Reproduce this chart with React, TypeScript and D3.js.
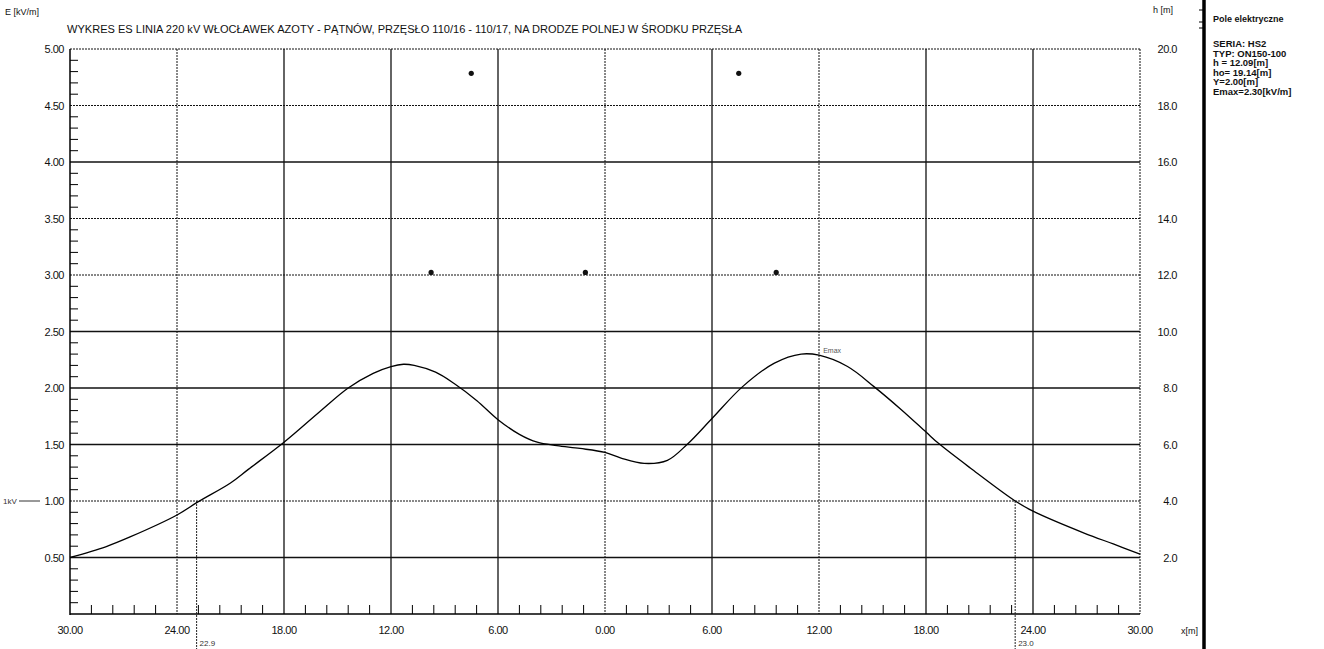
import React from 'react';
import * as d3 from 'd3';

// profile of the electric field strength across the span, E [kV/m] vs x [m]
const profileX = [-30, -28, -26.6, -24, -22.85, -21, -20, -18, -16, -14.4, -13, -12, -11.3, -10.7, -9.5, -8.46, -7.2, -6, -4.8, -3.8, -2.7, -1.4, 0, 0.9, 2.2, 3.5, 4.6, 6, 7.7, 9.5, 11, 12, 13.6, 15.1, 16.6, 18, 18.7, 20.5, 23, 24, 26.9, 28.5, 30];
const profileE = [0.5, 0.595, 0.684, 0.876, 0.99, 1.16, 1.28, 1.52, 1.79, 2.0, 2.13, 2.19, 2.21, 2.2, 2.14, 2.04, 1.89, 1.72, 1.59, 1.52, 1.49, 1.465, 1.43, 1.38, 1.333, 1.36, 1.5, 1.73, 2.01, 2.22, 2.3, 2.29, 2.19, 2.01, 1.81, 1.61, 1.51, 1.29, 1.0, 0.91, 0.714, 0.62, 0.53];

// conductor positions (plotted against the h axis)
const earthWireX = [-7.5, 7.5];
const earthWireH = 19.14;
const phaseX = [-9.75, -1.1, 9.6];
const phaseH = 12.09;

// points where E crosses 1 kV/m
const crossX = [-22.9, 23.0];
const crossLabels = ['22.9', '23.0'];

const xTicks = [-30, -24, -18, -12, -6, 0, 6, 12, 18, 24, 30];
const eTicks = [0.5, 1.0, 1.5, 2.0, 2.5, 3.0, 3.5, 4.0, 4.5, 5.0];
const hTicks = [2, 4, 6, 8, 10, 12, 14, 16, 18, 20];
const dottedE = [5.0, 4.5, 3.5, 3.0, 1.0];
const dottedX = [-24, 0, 12];

const titleText = 'WYKRES ES  LINIA 220 kV WŁOCŁAWEK AZOTY - PĄTNÓW, PRZĘSŁO 110/16 - 110/17, NA DRODZE POLNEJ W ŚRODKU PRZĘSŁA';
const legendLines = ['SERIA: HS2', 'TYP: ON150-100', 'h = 12.09[m]', 'ho= 19.14[m]', 'Y=2.00[m]', 'Emax=2.30[kV/m]'];

const W = 1324;
const H = 649;
const font = '"Liberation Sans", Arial, sans-serif';

export default function App() {
  const x = d3.scaleLinear().domain([-30, 30]).range([70, 1140]);
  const y = d3.scaleLinear().domain([0, 5]).range([614, 49]);
  const yh = d3.scaleLinear().domain([0, 20]).range([614, 49]);

  const line = d3.line<number>()
    .x((_, i) => x(profileX[i]))
    .y(d => y(d))
    .curve(d3.curveCatmullRom.alpha(0.5));

  const minorX = d3.range(-30, 30.01, 1.2).filter(v => Math.abs(v / 6 - Math.round(v / 6)) > 0.01);
  const minorE = d3.range(0.1, 5.0, 0.1).filter(v => Math.abs(v / 0.5 - Math.round(v / 0.5)) > 0.01);

  const emaxI = profileE.indexOf(d3.max(profileE) as number);

  return (
    <svg width={W} height={H} style={{ position: 'absolute', left: 0, top: 0, display: 'block', background: '#fff' }} fontFamily={font}>
      {/* grid */}
      {eTicks.map(v => (
        <line key={'ge' + v} x1={x(-30)} x2={x(30)} y1={y(v)} y2={y(v)} stroke="#111"
          strokeWidth={dottedE.includes(v) ? 1 : 1.3} strokeDasharray={dottedE.includes(v) ? '2,1' : undefined} />
      ))}
      {xTicks.slice(1, -1).map(v => (
        <line key={'gx' + v} x1={x(v)} x2={x(v)} y1={y(5)} y2={y(0)} stroke="#111"
          strokeWidth={dottedX.includes(v) ? 1 : 1.3} strokeDasharray={dottedX.includes(v) ? '2,1' : undefined} />
      ))}
      <line x1={x(30)} x2={x(30)} y1={y(5)} y2={y(0)} stroke="#111" strokeWidth={1} strokeDasharray="2,1" />

      {/* axes */}
      <line x1={x(-30)} x2={x(-30)} y1={y(5)} y2={y(0) + 1} stroke="#000" strokeWidth={1.5} />
      <line x1={x(-30)} x2={x(30)} y1={y(0)} y2={y(0)} stroke="#000" strokeWidth={1.5} />
      {minorE.map(v => (
        <line key={'me' + v} x1={x(-30)} x2={x(-30) + 8} y1={y(v)} y2={y(v)} stroke="#000" strokeWidth={1} />
      ))}
      {minorX.map(v => (
        <line key={'mx' + v} x1={x(v)} x2={x(v)} y1={y(0)} y2={y(0) - 9} stroke="#000" strokeWidth={1} />
      ))}
      {eTicks.map(v => (
        <text key={'te' + v} x={64} y={y(v) + 4} fontSize={11} textAnchor="end" fill="#111" letterSpacing={-0.5}>{v.toFixed(2)}</text>
      ))}
      {hTicks.map(v => (
        <text key={'th' + v} x={1177} y={yh(v) + 4} fontSize={11} textAnchor="end" fill="#111" letterSpacing={-0.5}>{v.toFixed(1)}</text>
      ))}
      {xTicks.map(v => (
        <text key={'tx' + v} x={x(v)} y={634} fontSize={11} textAnchor="middle" fill="#111" letterSpacing={-0.5}>{Math.abs(v).toFixed(2)}</text>
      ))}

      {/* axis titles */}
      <text x={5} y={15} fontSize={9} fill="#111">E [kV/m]</text>
      <text x={1153} y={13} fontSize={9} fill="#111">h [m]</text>
      <text x={1181} y={634} fontSize={9} fill="#111">x[m]</text>
      <text x={67} y={33} fontSize={10} fill="#111" textLength={675} lengthAdjust="spacingAndGlyphs">{titleText}</text>

      {/* 1 kV marker */}
      <text x={3} y={y(1) + 3} fontSize={8} fill="#333">1kV</text>
      <line x1={19} x2={40} y1={y(1)} y2={y(1)} stroke="#333" strokeWidth={1} />
      {crossX.map((v, i) => (
        <g key={'cx' + v}>
          <line x1={x(v)} x2={x(v)} y1={y(1)} y2={H} stroke="#222" strokeWidth={1} strokeDasharray="2,1" />
          <text x={x(v) + 3} y={646} fontSize={8} fill="#333">{crossLabels[i]}</text>
        </g>
      ))}

      {/* field profile */}
      <path d={line(profileE) as string} fill="none" stroke="#000" strokeWidth={1.3} />
      <text x={x(profileX[emaxI]) + 22} y={y(profileE[emaxI]) - 1} fontSize={7} fill="#555">Emax</text>

      {/* conductors */}
      {earthWireX.map(v => (
        <circle key={'ew' + v} cx={x(v)} cy={yh(earthWireH)} r={2.6} fill="#111" />
      ))}
      {phaseX.map(v => (
        <circle key={'ph' + v} cx={x(v)} cy={yh(phaseH)} r={2.6} fill="#111" />
      ))}

      {/* side panel */}
      <line x1={1204} x2={1204} y1={0} y2={H} stroke="#000" strokeWidth={3.5} />
      {[10, 22, 28].map(v => (
        <line key={'pt' + v} x1={1199} x2={1203} y1={v} y2={v} stroke="#000" strokeWidth={1} />
      ))}
      <text x={1213} y={22} fontSize={9} fontWeight="bold" fill="#111">Pole elektryczne</text>
      {legendLines.map((t, i) => (
        <text key={t} x={1213} y={47 + i * 9.6} fontSize={9.5} fontWeight="bold" fill="#111">{t}</text>
      ))}
    </svg>
  );
}
